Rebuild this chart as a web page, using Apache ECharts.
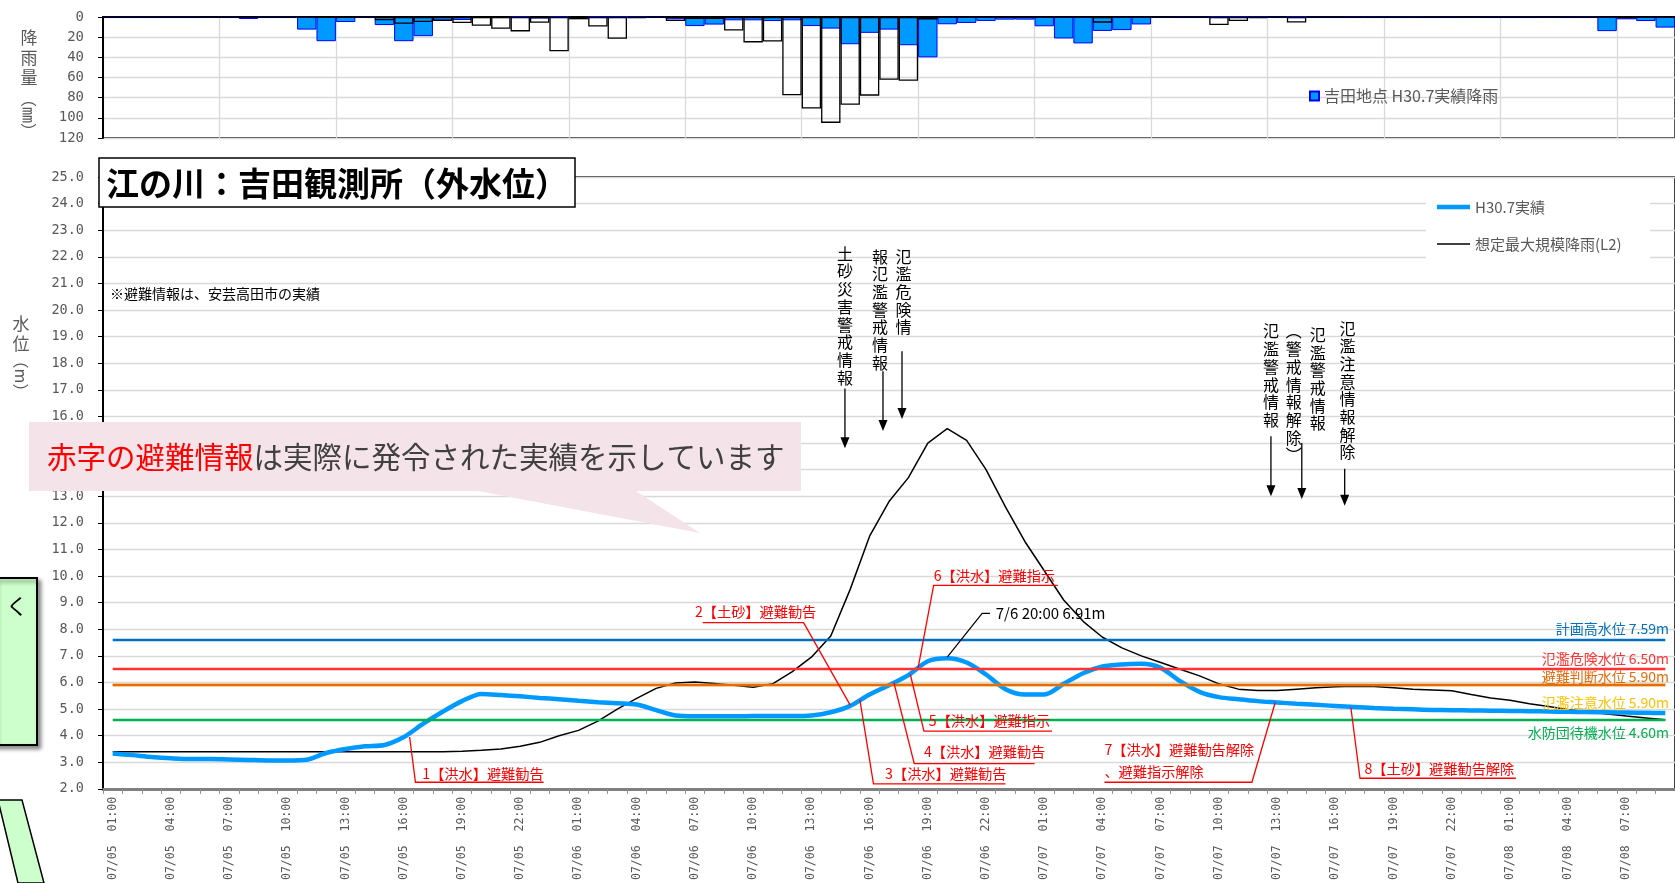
<!DOCTYPE html>
<html><head><meta charset="utf-8">
<script src="https://cdn.jsdelivr.net/npm/echarts@6/dist/echarts.min.js"></script>
<style>html,body{margin:0;padding:0;background:#fff;overflow:hidden}#c{width:1675px;height:883px}</style>
</head><body><div id="c"></div>
<script>
const categories=[
'07/05 01:00','07/05 02:00','07/05 03:00','07/05 04:00','07/05 05:00','07/05 06:00','07/05 07:00','07/05 08:00','07/05 09:00','07/05 10:00','07/05 11:00','07/05 12:00','07/05 13:00','07/05 14:00','07/05 15:00','07/05 16:00','07/05 17:00','07/05 18:00','07/05 19:00','07/05 20:00','07/05 21:00','07/05 22:00','07/05 23:00',
'07/06 00:00','07/06 01:00','07/06 02:00','07/06 03:00','07/06 04:00','07/06 05:00','07/06 06:00','07/06 07:00','07/06 08:00','07/06 09:00','07/06 10:00','07/06 11:00','07/06 12:00','07/06 13:00','07/06 14:00','07/06 15:00','07/06 16:00','07/06 17:00','07/06 18:00','07/06 19:00','07/06 20:00','07/06 21:00','07/06 22:00','07/06 23:00',
'07/07 00:00','07/07 01:00','07/07 02:00','07/07 03:00','07/07 04:00','07/07 05:00','07/07 06:00','07/07 07:00','07/07 08:00','07/07 09:00','07/07 10:00','07/07 11:00','07/07 12:00','07/07 13:00','07/07 14:00','07/07 15:00','07/07 16:00','07/07 17:00','07/07 18:00','07/07 19:00','07/07 20:00','07/07 21:00','07/07 22:00','07/07 23:00',
'07/08 00:00','07/08 01:00','07/08 02:00','07/08 03:00','07/08 04:00','07/08 05:00','07/08 06:00','07/08 07:00','07/08 08:00','07/08 09:00'];
// 吉田地点 H30.7実績降雨 (mm)
const rainObs=[0,0,0,0,0,1,0,2,0,0, 12.5,24,5,1,8,24,19,3.5,3,1, 1,0,1.5,0,1,0,0,0,0,2.3, 9,7.5,3.3,3.3,4,3.3,9,11.5,27,15.7, 12.5,28,40,7.2,5.9,3.9,2.6,2.6,9.2,21.3, 26.2,13.8,13,7.4,1,0,0,0,0,0, 0,0,0,0,0,0,0,0,0,0, 1,0,0,0,1,0,0,14,2.3,4, 10.5];
// 想定最大規模降雨(L2) (mm)
const rainL2=[0,0,0,0,0,0,0,0,0,0, 0,0.5,0.5,0,3.3,6.7,5,4,6,8.7, 11.7,14.3,5.7,34,2.3,9.5,21.6,1,0,4, 2,2,13.4,25.2,24.3,77.7,90.8,105,87,78, 62.3,63.3,2.6,0,0,0,0,0,0,0, 0,5.6,0,0,0,0,0,8,3.9,1, 0,5.5,0,0,0.5,0.5,0.5,0.5,0,0, 0,0,0,0,0,0,0.5,0,1,0, 0];
// 水位 H30.7実績 (m)
const levelObs=[3.33,3.27,3.20,3.15,3.12,3.12,3.11,3.09,3.07,3.07, 3.10,3.35,3.50,3.60,3.65,3.95,4.45,4.90,5.30,5.57, 5.53,5.48,5.42,5.37,5.31,5.26,5.22,5.17,4.96,4.76, 4.73,4.73,4.73,4.74,4.74,4.74,4.76,4.88,5.12,5.55, 5.90,6.28,6.80,6.91,6.75,6.30,5.75,5.55,5.55,5.95, 6.35,6.60,6.68,6.70,6.55,6.05,5.65,5.45,5.37,5.30, 5.25,5.20,5.16,5.12,5.08,5.04,5.01,4.99,4.97,4.96, 4.95,4.94,4.93,4.92,4.91,4.90,4.89,4.88,4.87,4.86, 4.85];
// 水位 想定最大規模降雨(L2) (m)
const levelL2=[3.40,3.40,3.40,3.40,3.40,3.40,3.40,3.40,3.40,3.40, 3.40,3.40,3.40,3.40,3.40,3.40,3.40,3.40,3.42,3.45, 3.50,3.60,3.75,4.00,4.20,4.55,5.00,5.40,5.78,5.98, 6.02,5.96,5.90,5.82,5.95,6.40,6.95,7.75,9.50,11.50, 12.80,13.70,15.00,15.54,15.10,14.00,12.60,11.30,10.20,9.10, 8.30,7.70,7.30,7.00,6.75,6.50,6.25,5.95,5.75,5.70, 5.70,5.75,5.80,5.84,5.86,5.85,5.80,5.75,5.72,5.69, 5.55,5.42,5.33,5.20,5.10,4.98,4.90,4.82,4.74,4.67, 4.60];
const thresholdNames=['氾濫注意水位','計画高水位','氾濫危険水位','避難判断水位','水防団待機水位'];
const thresholdValues=[5.90,7.59,6.50,5.90,4.60];
const seriesNames=['吉田地点 H30.7実績降雨','想定最大規模降雨(L2)降雨','H30.7実績','想定最大規模降雨(L2)'];

const FONT='"Noto Sans CJK JP","Noto Sans",sans-serif';
const MONO='"DejaVu Sans Mono",monospace';
const GRAY='#595959';
const BLUE='#0099FF';
const thrColors=['#FFC000','#0070C0','#FF3333','#E46C0A','#00B050'];
const thrLabelDy=[18,-12,-11,-8,13];

const option={
 animation:false,backgroundColor:'#fff',
 grid:[
  {left:103,top:17,width:1576,height:121,show:true,borderColor:'#000',borderWidth:1.5},
  {left:103,top:177,width:1576,height:614,show:true,borderColor:'#000',borderWidth:1.5}
 ],
 legend:[
  {data:[seriesNames[0]],left:1309,top:88,padding:0,itemWidth:9,itemHeight:9,icon:'rect',textStyle:{color:GRAY,fontSize:16,fontFamily:FONT}}
 ],
 xAxis:[
  {type:'category',gridIndex:0,data:categories,position:'top',boundaryGap:true,axisLine:{onZero:false,lineStyle:{color:'#000',width:2}},axisTick:{show:false},axisLabel:{show:false},splitLine:{show:true,interval:(i)=>i%6===0,lineStyle:{color:'#D9D9D9',width:1.3}}},
  {type:'category',gridIndex:1,data:categories,position:'bottom',boundaryGap:true,axisLine:{onZero:false,lineStyle:{color:'#808080',width:3}},axisTick:{show:true,interval:0,length:5,lineStyle:{color:'#909090'}},axisLabel:{interval:2,rotate:90,margin:8,color:GRAY,fontSize:11.5,fontFamily:MONO,formatter:v=>v.replace(' ','  ')},splitLine:{show:false}}
 ],
 yAxis:[
  {type:'value',gridIndex:0,inverse:true,min:0,max:120,interval:20,axisLine:{show:true,lineStyle:{color:'#000',width:2}},axisTick:{show:true,length:5,lineStyle:{color:'#000'}},axisLabel:{color:GRAY,fontSize:14,fontFamily:MONO,margin:19},splitLine:{lineStyle:{color:'#D9D9D9',width:1.3}}},
  {type:'value',gridIndex:1,min:2,max:25,interval:1,axisLine:{show:true,lineStyle:{color:'#000',width:2}},axisTick:{show:true,length:5,lineStyle:{color:'#000'}},axisLabel:{color:GRAY,fontSize:13.5,fontFamily:MONO,margin:19,formatter:v=>v.toFixed(1)},splitLine:{lineStyle:{color:'#D9D9D9',width:1.3}}}
 ],
 series:[
  {name:seriesNames[0],type:'bar',xAxisIndex:0,yAxisIndex:0,data:rainObs,barWidth:'100%',barGap:'-100%',itemStyle:{color:BLUE,borderColor:'#0000FF',borderWidth:1},z:2},
  {name:seriesNames[1],type:'bar',xAxisIndex:0,yAxisIndex:0,data:rainL2,barWidth:'100%',barGap:'-100%',itemStyle:{color:'rgba(255,255,255,0)',borderColor:'#000',borderWidth:1.3},z:3},
  {name:'基準水位',type:'line',xAxisIndex:1,yAxisIndex:1,data:levelObs,symbol:'none',silent:true,lineStyle:{opacity:0},z:1,
   markLine:{silent:true,symbol:'none',label:{show:false},animation:false,
    data:thresholdValues.map((v,k)=>[{coord:[categories[0],v],lineStyle:{color:thrColors[k],width:2.3,type:'solid'}},{coord:[categories[categories.length-1],v]}])}},
  {name:seriesNames[3],type:'line',xAxisIndex:1,yAxisIndex:1,data:levelL2,symbol:'none',lineStyle:{color:'#000',width:1.5},itemStyle:{color:'#000'},z:3},
  {name:seriesNames[2],type:'line',xAxisIndex:1,yAxisIndex:1,data:levelObs,symbol:'none',smooth:0.3,lineStyle:{color:BLUE,width:4.5},itemStyle:{color:BLUE},z:4}
 ]
};

const chart=echarts.init(document.getElementById('c'),null,{width:1675,height:883});
chart.setOption(option);

const xA=chart.convertToPixel({xAxisIndex:1},categories[0]);
const xB=chart.convertToPixel({xAxisIndex:1},categories[categories.length-1]);
const X=i=>xA+(xB-xA)*i/(categories.length-1);
const Y=v=>chart.convertToPixel({yAxisIndex:1},v);
const G=[];
const txt=(x,y,text,o={})=>G.push({type:'text',x,y,rotation:o.rot||0,z:o.z||60,style:Object.assign({text,fill:o.fill||'#000',fontSize:o.size||15,fontFamily:o.family||FONT,fontWeight:o.weight||'normal',align:o.align||'left',verticalAlign:o.va||'middle'},o.style||{})});
const pl=(pts,stroke,w,z)=>G.push({type:'polyline',z:z||55,shape:{points:pts},style:{stroke,lineWidth:w,fill:null}});
const arrow=(i,v1,v2)=>{const x=X(i),y1=Y(v1),y2=Y(v2);pl([[x,y1],[x,y2-9]],'#000',1.3);G.push({type:'polygon',z:55,shape:{points:[[x-4.5,y2-11],[x+4.5,y2-11],[x,y2]]},style:{fill:'#000'}});};

// legend for the water-level lines
G.push({type:'rect',z:56,shape:{x:1426,y:190,width:224,height:72},style:{fill:'#fff'}});
pl([[1437,207],[1470,207]],BLUE,4.5,57);
txt(1475,207,seriesNames[2],{fill:GRAY,size:15,z:57});
pl([[1437,244],[1470,244]],'#000',1.5,57);
txt(1475,244,seriesNames[3],{fill:GRAY,size:15,z:57});

// threshold labels
thresholdValues.forEach((v,k)=>{txt(1669,Y(v)+thrLabelDy[k],thresholdNames[k]+' '+v.toFixed(2)+'m',{fill:thrColors[k],size:14,align:'right'});});

// red evacuation notes
const notes=[
 {t:'1【洪水】避難勧告',a:[15.3,3.95],c:[15.6,2.25],e:22.2,ti:15.95,tv:2.58},
 {t:'2【土砂】避難勧告',a:[38.0,5.15],c:[35.6,8.25],e:30.4,ti:30.0,tv:8.68},
 {t:'3【洪水】避難勧告',a:[38.5,5.35],c:[39.2,2.19],e:46.0,ti:39.8,tv:2.58},
 {t:'4【洪水】避難勧告',a:[40.25,6.0],c:[41.3,2.95],e:47.5,ti:41.8,tv:3.40},
 {t:'5【洪水】避難指示',a:[41.1,6.3],c:[41.8,4.17],e:48.4,ti:42.05,tv:4.56},
 {t:'6【洪水】避難指示',a:[41.5,6.55],c:[42.3,9.65],e:48.7,ti:42.3,tv:10.0},
 {t:'7【洪水】避難勧告解除',a:[59.9,5.25],c:[58.7,2.25],e:51.1,ti:51.1,tv:3.48},
 {t:'、避難指示解除',ti:51.1,tv:2.65},
 {t:'8【土砂】避難勧告解除',a:[63.8,5.05],c:[64.27,2.4],e:72.3,ti:64.5,tv:2.78}
];
notes.forEach(n=>{
 if(n.a){pl([[X(n.a[0]),Y(n.a[1])],[X(n.c[0]),Y(n.c[1])],[X(n.e),Y(n.c[1])]],'#FF0000',1.3);}
 txt(X(n.ti),Y(n.tv),n.t,{fill:'#FF0000',size:14.2});
});

// peak note
pl([[X(43),Y(6.95)],[X(44.8),Y(8.6)],[X(45.2),Y(8.6)]],'#000',1.2);
txt(X(45.5),Y(8.6),'7/6 20:00 6.91m',{size:15});

// vertical warning notes
const vnotes=[
 {t:'土砂災害警戒情報',i:37.73,top:22.45,ar:[37.73,17.05,14.8]},
 {t:'報氾濫警戒情報',i:39.53,top:22.34,ar:[39.69,17.7,15.45]},
 {t:'氾濫危険情',i:40.75,top:22.34,ar:[40.67,18.45,15.9]},
 {t:'氾濫警戒情報',i:59.68,top:19.53,ar:[59.68,15.26,13.0]},
 {t:'︵警戒情報解除︶',i:60.86,top:19.53,ar:[61.27,15.0,12.9]},
 {t:'氾濫警戒情報',i:62.09,top:19.4,ar:null},
 {t:'氾濫注意情報解除',i:63.63,top:19.64,ar:[63.48,14.03,12.64]}
];
vnotes.forEach(n=>{
 txt(X(n.i),Y(n.top),n.t.split('').join('\n'),{align:'center',va:'top',size:16,style:{lineHeight:17.7}});
 if(n.ar) arrow(n.ar[0],n.ar[1],n.ar[2]);
});

// title box
G.push({type:'rect',z:58,shape:{x:99,y:158,width:476,height:49},style:{fill:'#fff',stroke:'#000',lineWidth:1.5}});
txt(106,183,'江の川：吉田観測所（外水位）',{size:33,weight:'bold',z:59});
txt(110,294,'※避難情報は、安芸高田市の実績',{size:14});

// axis names
txt(29,38,'降',{fill:GRAY,size:17,align:'center'});
txt(29,58,'雨',{fill:GRAY,size:17,align:'center'});
txt(29,78,'量',{fill:GRAY,size:17,align:'center'});
txt(29,115,'（㎜）',{fill:GRAY,size:16,align:'center',rot:-Math.PI/2});
txt(21,324,'水',{fill:GRAY,size:17,align:'center'});
txt(21,344,'位',{fill:GRAY,size:17,align:'center'});
txt(21,376,'（m）',{fill:GRAY,size:16,align:'center',rot:-Math.PI/2});

// pink callout
const CF=29.5;
G.push({type:'polygon',z:70,shape:{points:[[29,422],[801,422],[801,491],[636,491],[700,533],[478,491],[29,491]]},style:{fill:'#F4E4EA'}});
txt(47,457,'赤字の避難情報',{fill:'#FF0000',size:CF,z:71});
txt(47+7*CF,457,'は実際に発令された実績を示しています',{fill:'#404040',size:CF,z:71});

// green box (cut at left edge)
G.push({type:'rect',z:70,shape:{x:-6,y:578,width:43,height:167},style:{fill:'#CCFFCC',stroke:'#000',lineWidth:2,shadowBlur:4,shadowOffsetX:3,shadowOffsetY:3,shadowColor:'rgba(0,0,0,0.45)'}});
txt(6,606,'く',{size:22,z:71});
G.push({type:'polygon',z:70,shape:{points:[[-2,800],[22,800],[44,883],[18,883]]},style:{fill:'#CCFFCC',stroke:'#000',lineWidth:1.5}});

chart.setOption({graphic:{elements:G}});
</script></body></html>
